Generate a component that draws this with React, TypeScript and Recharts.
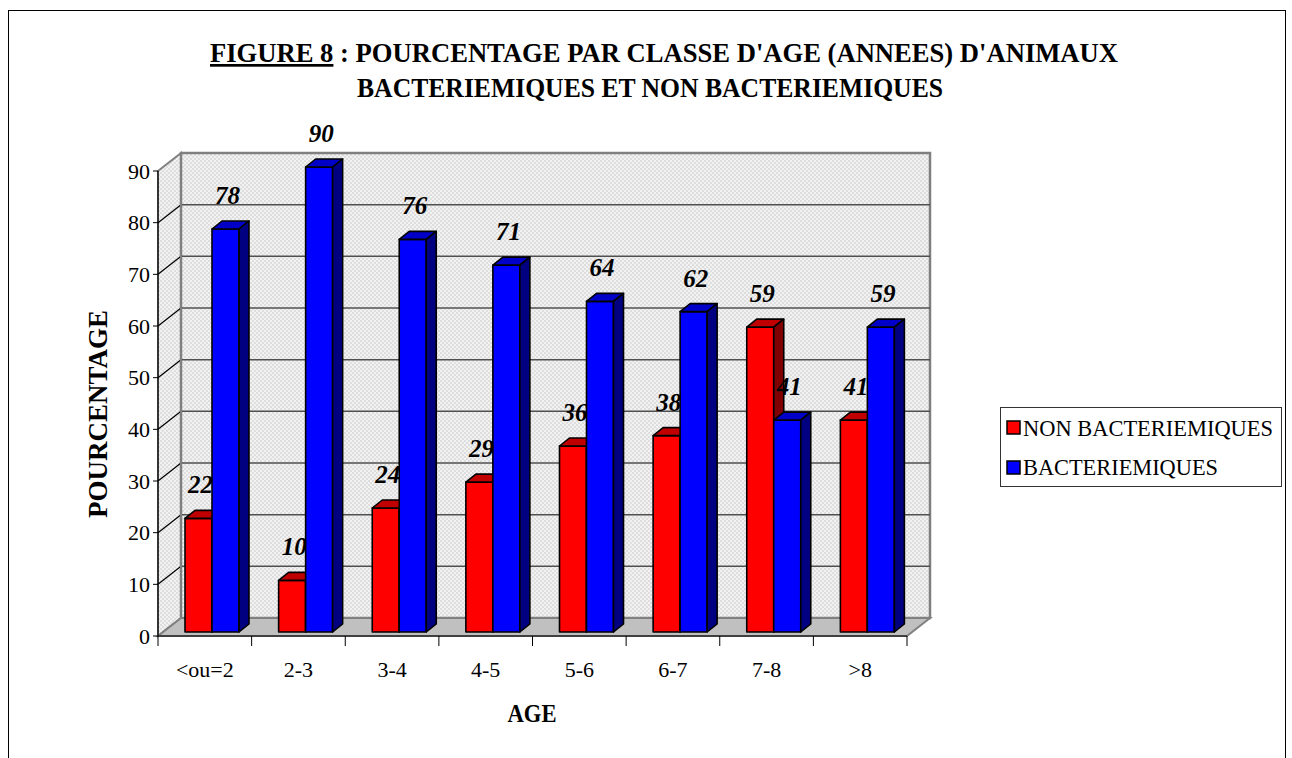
import React from 'react';
import { BarChart, Bar, XAxis, YAxis, ReferenceArea, LabelList } from 'recharts';

const AGES = ['<ou=2', '2-3', '3-4', '4-5', '5-6', '6-7', '7-8', '>8'];
const NON_BACT = [22, 10, 24, 29, 36, 38, 59, 41];
const BACT = [78, 90, 76, 71, 64, 62, 41, 59];
const Y_TICKS = [0, 10, 20, 30, 40, 50, 60, 70, 80, 90];
const SERIES_NAMES = ['NON BACTERIEMIQUES', 'BACTERIEMIQUES'];
const TITLE_LINE1_UNDERLINED = 'FIGURE 8';
const TITLE_LINE1_REST = ' : POURCENTAGE PAR CLASSE D\'AGE (ANNEES) D\'ANIMAUX';
const TITLE_LINE2 = 'BACTERIEMIQUES ET NON BACTERIEMIQUES';
const Y_TITLE = 'POURCENTAGE';
const X_TITLE = 'AGE';

const data = AGES.map((age, i) => ({ age, non: NON_BACT[i], bact: BACT[i] }));

const FONT = 'Liberation Serif';
const W = 1292;
const H = 758;

// 3D offsets
const WX = 23; // wall depth x
const WY = -18; // wall depth y
const SX = 7; // bar shift (mid-depth)
const SY = -4;
const DX = 10; // bar depth
const DY = -8;

const RED = { front: '#FF0000', top: '#C00000', side: '#800000' };
const BLUE = { front: '#0000FF', top: '#0000C8', side: '#000080' };

const makeBar = (c: { front: string; top: string; side: string }) => (props: any) => {
  const { x, y, width, height } = props;
  if (width == null || height == null) return <g />;
  const x0 = x + SX;
  const y0 = y + SY;
  const w = width;
  const h = height;
  const sw = 1.6;
  return (
    <g strokeLinejoin="round">
      <rect x={x0} y={y0} width={w} height={h} fill={c.front} stroke="#000" strokeWidth={sw} />
      <polygon
        points={`${x0},${y0} ${x0 + DX},${y0 + DY} ${x0 + w + DX},${y0 + DY} ${x0 + w},${y0}`}
        fill={c.top}
        stroke="#000"
        strokeWidth={sw}
      />
      <polygon
        points={`${x0 + w},${y0} ${x0 + w + DX},${y0 + DY} ${x0 + w + DX},${y0 + h + DY} ${x0 + w},${y0 + h}`}
        fill={c.side}
        stroke="#000"
        strokeWidth={sw}
      />
    </g>
  );
};

const RedBar = makeBar(RED);
const BlueBar = makeBar(BLUE);

const ValueLabel = (props: any) => {
  const { x, y, width, value } = props;
  return (
    <text
      x={x + SX + width / 2 + 2}
      y={y + SY + DY - 17}
      textAnchor="middle"
      style={{ fontFamily: FONT, fontSize: 25, fontWeight: 'bold', fontStyle: 'italic' }}
      fill="#000"
    >
      {value}
    </text>
  );
};

const Walls = (props: any) => {
  const { x, y, width, height } = props;
  if (x == null) return <g />;
  const x0 = x;
  const y0 = y;
  const x1 = x + width;
  const y1 = y + height;
  const max = Y_TICKS[Y_TICKS.length - 1];
  const inner = Y_TICKS.slice(1, -1);
  return (
    <g>
      <defs>
        <pattern id="wallPat" width="4" height="4" patternUnits="userSpaceOnUse">
          <rect width="4" height="4" fill="#f2f2f2" />
          <rect x="0" y="0" width="2" height="2" fill="#dedede" />
          <rect x="2" y="2" width="2" height="2" fill="#dedede" />
        </pattern>
      </defs>
      <polygon
        points={`${x0},${y0} ${x0 + WX},${y0 + WY} ${x0 + WX},${y1 + WY} ${x0},${y1}`}
        fill="url(#wallPat)"
        stroke="#808080"
        strokeWidth={2}
      />
      <rect
        x={x0 + WX}
        y={y0 + WY}
        width={width}
        height={height}
        fill="url(#wallPat)"
        stroke="#808080"
        strokeWidth={2.5}
      />
      <polygon
        points={`${x0},${y1} ${x1},${y1} ${x1 + WX},${y1 + WY} ${x0 + WX},${y1 + WY}`}
        fill="#c0c0c0"
        stroke="#808080"
        strokeWidth={2}
      />
      {inner.map((t) => {
        const yy = y1 - (height * t) / max;
        return (
          <g key={t}>
            <line x1={x0} y1={yy} x2={x0 + WX} y2={yy + WY} stroke="#000" strokeWidth={1.2} />
            <line x1={x0 + WX} y1={yy + WY} x2={x1 + WX} y2={yy + WY} stroke="#505050" strokeWidth={1.5} />
          </g>
        );
      })}
      <line x1={x0 + WX} y1={y0 + WY} x2={x0 + WX} y2={y1 + WY} stroke="#808080" strokeWidth={2} />
    </g>
  );
};

const XTick = (props: any) => {
  const { x, y, payload, index, width } = props;
  const half = (width ?? 749) / AGES.length / 2;
  const last = index === AGES.length - 1;
  return (
    <g>
      <line x1={x - half} y1={y} x2={x - half} y2={y + 10} stroke="#000" strokeWidth={1} />
      {last && <line x1={x + half} y1={y} x2={x + half} y2={y + 10} stroke="#000" strokeWidth={1} />}
      <text x={x} y={y + 41} textAnchor="middle" style={{ fontFamily: FONT, fontSize: 22 }} fill="#000">
        {payload.value}
      </text>
    </g>
  );
};

export default function App() {
  return (
    <div style={{ position: 'absolute', left: 0, top: 0, width: W, height: H, overflow: 'hidden', background: '#fff' }}>
      <BarChart
        width={W}
        height={H}
        data={data}
        margin={{ top: 171, right: 385, bottom: 82, left: 98 }}
        barSize={27}
        barGap={0}
      >
        <ReferenceArea x1={AGES[0]} x2={AGES[AGES.length - 1]} y1={0} y2={Y_TICKS[Y_TICKS.length - 1]} shape={<Walls />} />
        <XAxis
          dataKey="age"
          height={40}
          axisLine={{ stroke: '#000', strokeWidth: 1.2 }}
          tickLine={false}
          tickSize={0}
          tickMargin={0}
          interval={0}
          tick={<XTick />}
        />
        <YAxis
          width={60}
          domain={[0, 90]}
          ticks={Y_TICKS}
          interval={0}
          axisLine={{ stroke: '#000', strokeWidth: 1.2 }}
          tickLine={{ stroke: '#000', strokeWidth: 1 }}
          tickSize={5}
          tickMargin={3}
          tick={{ fontFamily: FONT, fontSize: 22, fill: '#000', style: { fontFamily: FONT } }}
        />
        <Bar dataKey="non" name={SERIES_NAMES[0]} fill={RED.front} shape={RedBar} isAnimationActive={false}>
          <LabelList dataKey="non" content={<ValueLabel />} />
        </Bar>
        <Bar dataKey="bact" name={SERIES_NAMES[1]} fill={BLUE.front} shape={BlueBar} isAnimationActive={false}>
          <LabelList dataKey="bact" content={<ValueLabel />} />
        </Bar>
      </BarChart>
      <svg
        width={W}
        height={H}
        style={{ position: 'absolute', left: 0, top: 0, pointerEvents: 'none', fontFamily: FONT }}
      >
        <rect x={8.5} y={10.5} width={1277} height={760} fill="none" stroke="#000" strokeWidth={1} />
        <text
          x={664}
          y={62}
          textAnchor="middle"
          style={{ fontFamily: FONT, fontSize: 27, fontWeight: 'bold' }}
          fill="#000"
          textLength={908}
          lengthAdjust="spacingAndGlyphs"
        >
          <tspan style={{ textDecoration: 'underline' }}>{TITLE_LINE1_UNDERLINED}</tspan>
          <tspan>{TITLE_LINE1_REST}</tspan>
        </text>
        <text
          x={650}
          y={97}
          textAnchor="middle"
          style={{ fontFamily: FONT, fontSize: 27, fontWeight: 'bold' }}
          fill="#000"
          textLength={586}
          lengthAdjust="spacingAndGlyphs"
        >
          {TITLE_LINE2}
        </text>
        <text
          transform="translate(107,414) rotate(-90)"
          textAnchor="middle"
          style={{ fontFamily: FONT, fontSize: 27, fontWeight: 'bold' }}
          fill="#000"
          textLength={208}
          lengthAdjust="spacingAndGlyphs"
        >
          {Y_TITLE}
        </text>
        <text
          x={532}
          y={722}
          textAnchor="middle"
          style={{ fontFamily: FONT, fontSize: 25, fontWeight: 'bold' }}
          fill="#000"
          textLength={49}
          lengthAdjust="spacingAndGlyphs"
        >
          {X_TITLE}
        </text>
        <rect x={1000.5} y={407.5} width={281} height={79} fill="#fff" stroke="#333" strokeWidth={1} />
        <rect x={1007} y={421} width={13} height={13} fill={RED.front} stroke="#000" strokeWidth={1.5} />
        <text x={1023} y={436} style={{ fontFamily: FONT, fontSize: 24 }} fill="#000" textLength={250} lengthAdjust="spacingAndGlyphs">
          {SERIES_NAMES[0]}
        </text>
        <rect x={1007} y={461} width={13} height={13} fill={BLUE.front} stroke="#000" strokeWidth={1.5} />
        <text x={1023} y={475} style={{ fontFamily: FONT, fontSize: 24 }} fill="#000" textLength={195} lengthAdjust="spacingAndGlyphs">
          {SERIES_NAMES[1]}
        </text>
      </svg>
    </div>
  );
}
